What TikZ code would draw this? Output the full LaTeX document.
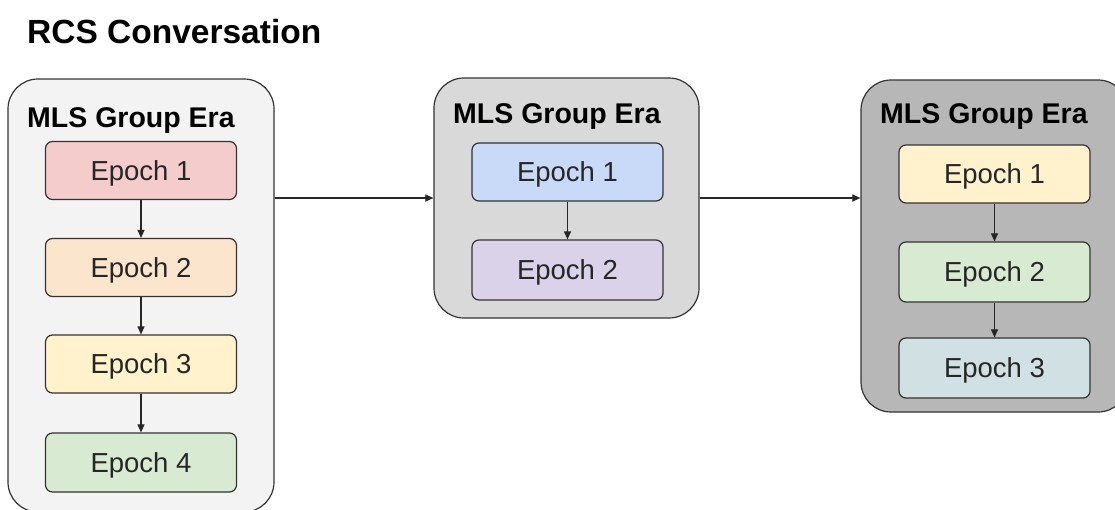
\documentclass[tikz,border=0pt]{standalone}
\usepackage{fontspec}
\setmainfont{Liberation Sans}
\usetikzlibrary{arrows.meta,calc}
\definecolor{contA}{HTML}{F3F3F3}
\definecolor{contB}{HTML}{D9D9D9}
\definecolor{contC}{HTML}{B7B7B7}
\definecolor{cRed}{HTML}{F4CCCC}
\definecolor{cOrange}{HTML}{FCE5CD}
\definecolor{cYellow}{HTML}{FFF2CC}
\definecolor{cGreen}{HTML}{D9EAD3}
\definecolor{cBlue}{HTML}{C9DAF8}
\definecolor{cPurple}{HTML}{D9D2E9}
\definecolor{cCyan}{HTML}{D0E0E3}
\definecolor{edge}{HTML}{333333}
\tikzset{
  container/.style={draw=edge, line width=1.2pt, rounded corners=30pt, inner sep=0pt},
  epochbox/.style={draw=edge, line width=1.2pt, rounded corners=7pt, minimum width=191pt, minimum height=58pt, inner sep=0pt, text depth=0pt, font=\fontsize{27.5}{30}\selectfont, text=black!85},
  header/.style={anchor=base west, inner sep=0pt, font=\fontsize{28.5}{32}\selectfont\bfseries},
  arr/.style={draw=black!85, line width=1.1pt, -{Triangle[length=8pt,width=7pt]}},
}
\begin{document}
\begin{tikzpicture}[x=1pt,y=-1pt]
\useasboundingbox (0,0) rectangle (1115,509);
\node[anchor=base west, inner sep=0pt, font=\fontsize{33.5}{38}\selectfont\bfseries] (title) at (27,43) {RCS Conversation};
% containers
\node[container, fill=contA, minimum width=266pt, minimum height=433pt] (L) at (141,295.5) {};
\node[container, fill=contB, minimum width=265pt, minimum height=240pt] (M) at (566.5,198) {};
\node[container, fill=contC, minimum width=267pt, minimum height=332pt] (R) at (994.5,246) {};
% headers
\node[header] (hL) at (27,127) {MLS Group Era};
\node[header] (hM) at (453,123) {MLS Group Era};
\node[header] (hR) at (880,123) {MLS Group Era};
% left epochs
\node[epochbox, fill=cRed] (L1) at (141,170.5) {Epoch 1};
\node[epochbox, fill=cOrange] (L2) at (141,267.5) {Epoch 2};
\node[epochbox, fill=cYellow] (L3) at (141,364) {Epoch 3};
\node[epochbox, fill=cGreen, minimum height=59pt] (L4) at (141,462.5) {Epoch 4};
% middle epochs
\node[epochbox, fill=cBlue] (M1) at (567.5,172) {Epoch 1};
\node[epochbox, fill=cPurple, minimum height=60pt] (M2) at (567.5,270) {Epoch 2};
% right epochs
\node[epochbox, fill=cYellow] (R1) at (994.5,174) {Epoch 1};
\node[epochbox, fill=cGreen, minimum height=60pt] (R2) at (994.5,272) {Epoch 2};
\node[epochbox, fill=cCyan, minimum height=60pt] (R3) at (994.5,368) {Epoch 3};
% arrows
\draw[arr] (L1.south) -- (L2.north);
\draw[arr] (L2.south) -- (L3.north);
\draw[arr] (L3.south) -- (L4.north);
\draw[arr] (M1.south) -- (M2.north);
\draw[arr] (R1.south) -- (R2.north);
\draw[arr] (R2.south) -- (R3.north);
\coordinate (ay) at (0,198);
\draw[arr] (L.east |- ay) -- (M.west |- ay);
\draw[arr] (M.east |- ay) -- (R.west |- ay);
\end{tikzpicture}
\end{document}
